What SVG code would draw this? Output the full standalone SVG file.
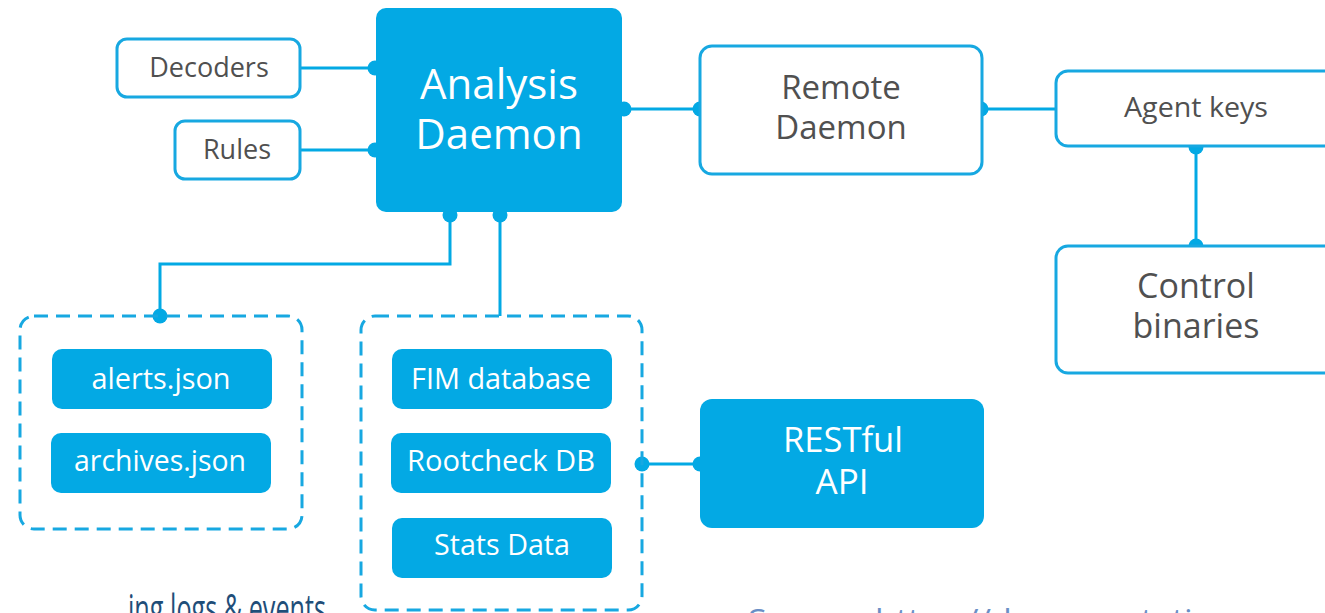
<svg xmlns="http://www.w3.org/2000/svg" width="1325" height="613" viewBox="0 0 1325 613">
<style>
.solid{fill:#03a9e4;}
.outline{fill:#fff;stroke:#17a8e1;stroke-width:3;}
.dashed{fill:none;stroke:#17a8e1;stroke-width:3;stroke-dasharray:14 8;}
.wt{font-family:"Open Sans","DejaVu Sans",sans-serif;fill:#fff;text-anchor:middle;}
.gt{font-family:"Open Sans","DejaVu Sans",sans-serif;fill:#505050;text-anchor:middle;}
.ln{fill:none;stroke:#03a9e4;stroke-width:3;}
.dot{fill:#03a9e4;}
</style>
<rect width="1325" height="613" fill="#fff"/>

<g id="connectors">
<path class="ln" d="M300 68H376"/>
<path class="ln" d="M300 150H376"/>
<path class="ln" d="M622 109H700"/>
<path class="ln" d="M982 109H1056"/>
<path class="ln" d="M1196 146V246"/>
<path class="ln" d="M450 212V264H160V316"/>
<path class="ln" d="M500 212V316"/>
<path class="ln" d="M642 464H700"/>
<circle class="dot" cx="375" cy="68" r="7.5"/>
<circle class="dot" cx="375" cy="150" r="7.5"/>
<circle class="dot" cx="624" cy="109" r="7.5"/>
<circle class="dot" cx="700" cy="109" r="7.5"/>
<circle class="dot" cx="981" cy="109" r="7.5"/>
<circle class="dot" cx="1196" cy="147" r="7.5"/>
<circle class="dot" cx="1196" cy="246" r="7.5"/>
<circle class="dot" cx="450" cy="215" r="7.5"/>
<circle class="dot" cx="500" cy="215" r="7.5"/>
<circle class="dot" cx="160" cy="316" r="7.5"/>
<circle class="dot" cx="642" cy="464" r="7.5"/>
<circle class="dot" cx="700" cy="464" r="7.5"/>
</g>

<g id="analysis-daemon">
<rect class="solid" x="376" y="8" width="246" height="204" rx="10"/>
<text class="wt" x="499" y="99" font-size="42">Analysis</text>
<text class="wt" x="499" y="149" font-size="42">Daemon</text>
</g>

<g id="decoders">
<rect class="outline" x="117" y="39" width="183" height="58" rx="10"/>
<text class="gt" x="209" y="77" font-size="27">Decoders</text>
</g>

<g id="rules">
<rect class="outline" x="175" y="121" width="125" height="58" rx="10"/>
<text class="gt" x="237" y="159" font-size="27">Rules</text>
</g>

<g id="remote-daemon">
<rect class="outline" x="700" y="46" width="282" height="128" rx="12"/>
<text class="gt" x="841" y="99" font-size="33">Remote</text>
<text class="gt" x="841" y="139" font-size="33">Daemon</text>
</g>

<g id="agent-keys">
<rect class="outline" x="1056" y="71" width="300" height="75" rx="12"/>
<text class="gt" x="1196" y="117" font-size="28" textLength="144" lengthAdjust="spacingAndGlyphs">Agent keys</text>
</g>

<g id="control-binaries">
<rect class="outline" x="1056" y="246" width="300" height="127" rx="12"/>
<text class="gt" x="1196" y="298" font-size="34">Control</text>
<text class="gt" x="1196" y="338" font-size="34">binaries</text>
</g>

<g id="logs-group">
<rect class="dashed" x="20" y="316" width="282" height="213" rx="14"/>
</g>

<g id="alerts-json">
<rect class="solid" x="52" y="349" width="220" height="60" rx="10"/>
<text class="wt" x="161" y="389" font-size="29" textLength="139" lengthAdjust="spacingAndGlyphs">alerts.json</text>
</g>

<g id="archives-json">
<rect class="solid" x="51" y="433" width="220" height="60" rx="10"/>
<text class="wt" x="160" y="471" font-size="29" textLength="172" lengthAdjust="spacingAndGlyphs">archives.json</text>
</g>

<g id="db-group">
<rect class="dashed" x="361" y="316" width="281" height="294" rx="14"/>
</g>

<g id="fim-database">
<rect class="solid" x="392" y="349" width="220" height="60" rx="10"/>
<text class="wt" x="501" y="389" font-size="29" textLength="180" lengthAdjust="spacingAndGlyphs">FIM database</text>
</g>

<g id="rootcheck-db">
<rect class="solid" x="391" y="433" width="220" height="60" rx="10"/>
<text class="wt" x="501" y="471" font-size="29" textLength="188" lengthAdjust="spacingAndGlyphs">Rootcheck DB</text>
</g>

<g id="stats-data">
<rect class="solid" x="392" y="518" width="220" height="60" rx="10"/>
<text class="wt" x="502" y="555" font-size="29" textLength="136" lengthAdjust="spacingAndGlyphs">Stats Data</text>
</g>

<g id="restful-api">
<rect class="solid" x="700" y="399" width="284" height="129" rx="12"/>
<text class="wt" x="843" y="452" font-size="34" textLength="120" lengthAdjust="spacingAndGlyphs">RESTful</text>
<text class="wt" x="842" y="494" font-size="34" textLength="53" lengthAdjust="spacingAndGlyphs">API</text>
</g>

<text x="128" y="623" font-family="Open Sans, DejaVu Sans, sans-serif" font-size="40" fill="#1f4e79" textLength="198" lengthAdjust="spacingAndGlyphs">ing logs &amp; events</text>
<text x="748" y="631" font-family="Open Sans, DejaVu Sans, sans-serif" font-size="31" fill="#6a8fc6" textLength="675" lengthAdjust="spacingAndGlyphs">Source: https://documentation.wazuh.com</text>
</svg>
